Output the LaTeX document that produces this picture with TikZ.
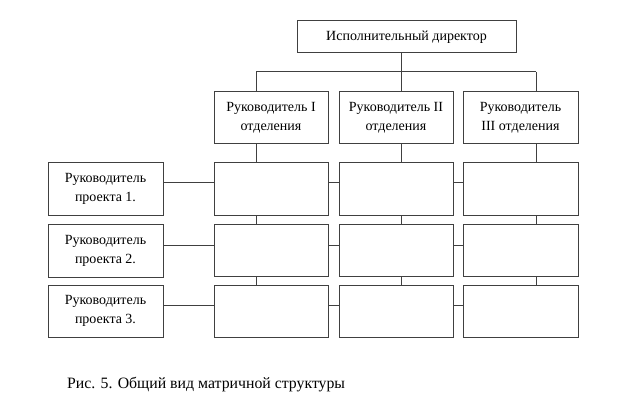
\documentclass[tikz,border=0pt]{standalone}
\usepackage{fontspec}
\setmainfont{Liberation Serif}
\begin{document}
\begin{tikzpicture}[x=1pt,y=-1pt,
  every node/.style={font=\fontsize{14}{19}\selectfont},
  cell/.style={draw=black!75, line width=1pt, inner sep=0pt, align=center,
    minimum width=114pt, minimum height=52pt},
  link/.style={draw=black!75, line width=1pt}]
\useasboundingbox (0,0) rectangle (624,401);
% top
\node[cell, minimum width=219pt, minimum height=32pt] (top) at (406.5,37) {Исполнительный директор};
% department heads
\node[cell] (d1) at (271,118) {Руководитель I\\отделения};
\node[cell] (d2) at (396,118) {Руководитель II\\отделения};
\node[cell, minimum width=115pt] (d3) at (520.5,118) {Руководитель\\III отделения};
% project heads
\node[cell, minimum width=115pt] (p1) at (105.5,189) {Руководитель\\проекта 1.};
\node[cell, minimum width=115pt, minimum height=53pt] (p2) at (105.5,250.5) {Руководитель\\проекта 2.};
\node[cell, minimum width=115pt] (p3) at (105.5,311) {Руководитель\\проекта 3.};
% grid
\foreach \r/\y in {1/189,2/250.5,3/311}{
  \node[cell] (g\r1) at (271,\y) {};
  \node[cell] (g\r2) at (396,\y) {};
  \node[cell, minimum width=115pt] (g\r3) at (520.5,\y) {};
}
% line positions
\coordinate (v1) at (256,72);
\coordinate (v2) at (401,72);
\coordinate (v3) at (536,72);
\coordinate (r1) at (0,183);
\coordinate (r2) at (0,245);
\coordinate (r3) at (0,305);
\draw[link] (v1) -- (v3);
\draw[link] (v2) -- (v2 |- top.south);
\foreach \i in {1,2,3}{
  \draw[link] (v\i) -- (v\i |- d\i.north);
  \draw[link] (v\i |- d\i.south) -- (v\i |- g1\i.north);
  \draw[link] (v\i |- g1\i.south) -- (v\i |- g2\i.north);
  \draw[link] (v\i |- g2\i.south) -- (v\i |- g3\i.north);
}
\foreach \r in {1,2,3}{
  \draw[link] (p\r.east |- r\r) -- (g\r1.west |- r\r);
  \draw[link] (g\r1.east |- r\r) -- (g\r2.west |- r\r);
  \draw[link] (g\r2.east |- r\r) -- (g\r3.west |- r\r);
}
\node[anchor=base west, inner sep=0pt, font=\fontsize{15.8}{19}\selectfont] (cap) at (67,388) {Рис. 5. Общий вид матричной структуры};
\end{tikzpicture}
\end{document}
